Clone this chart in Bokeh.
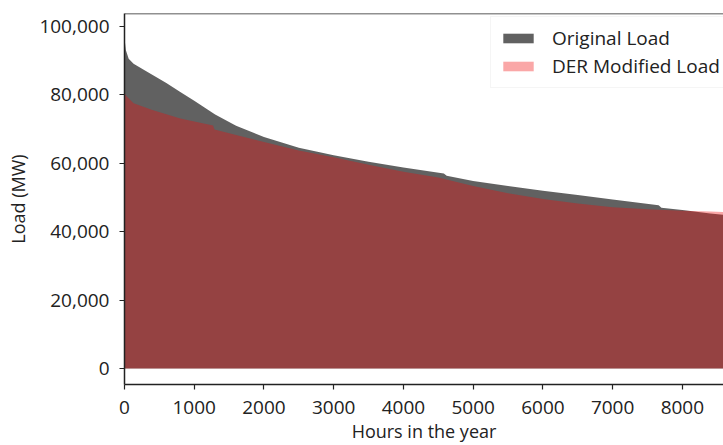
from bokeh.plotting import figure
from bokeh.models import Range1d, FixedTicker, NumeralTickFormatter, Span, Legend, LegendItem
from bokeh.embed import file_html
from bokeh.resources import INLINE

# Load duration curves
orig_hours = [0, 20, 60, 130, 300, 600, 800, 1000, 1300, 1600, 2000, 2500, 3000, 3500,
              4000, 4580, 4620, 5000, 5500, 6000, 6500, 7000, 7660, 7700, 8000, 8400, 8760]
orig_load = [96500, 93000, 90500, 89000, 87000, 83400, 80800, 78200, 74200, 70900, 67600,
             64500, 62300, 60400, 58700, 57000, 56300, 54800, 53300, 51900, 50700, 49400,
             47700, 47000, 46300, 45300, 44500]

der_hours = [0, 30, 130, 400, 800, 1270, 1290, 1600, 2000, 2500, 3000, 3500, 4000, 4500,
             5000, 5500, 6000, 6500, 7000, 7500, 8000, 8400, 8760]
der_load = [80500, 79500, 77500, 75500, 73000, 71000, 69800, 68200, 66200, 63700, 61700,
            59500, 57500, 55800, 53300, 51200, 49500, 48200, 47100, 46500, 46100, 45900, 45600]

x_ticks = [0, 1000, 2000, 3000, 4000, 5000, 6000, 7000, 8000]
y_ticks = [0, 20000, 40000, 60000, 80000, 100000]

FONT = "Open Sans"
TXT = "#222222"

p = figure(width=723, height=445, output_backend="svg", toolbar_location=None,
           x_range=Range1d(0, 8590), y_range=Range1d(-4660, 103700),
           min_border_left=124, min_border_right=0, min_border_top=13, min_border_bottom=60)
p.outline_line_color = None
p.grid.visible = False
p.background_fill_color = "white"
p.border_fill_color = "white"

r_orig = p.varea(x=orig_hours, y1=0, y2=orig_load, fill_color="black", fill_alpha=0.62)
r_der = p.varea(x=der_hours, y1=0, y2=der_load, fill_color=(240, 12, 12), fill_alpha=0.36)

top_line = Span(location=103700, dimension="width", line_color="#222222", line_width=1.5)
p.add_layout(top_line)

for ax in (p.xaxis[0], p.yaxis[0]):
    ax.axis_line_color = "#222222"
    ax.axis_line_width = 1.5
    ax.major_tick_line_color = "#222222"
    ax.major_tick_line_width = 1.2
    ax.major_tick_in = 0
    ax.major_tick_out = 5
    ax.minor_tick_line_color = None
    ax.major_label_text_font = FONT
    ax.major_label_text_font_size = "19px"
    ax.major_label_text_color = TXT
    ax.axis_label_text_font = FONT
    ax.axis_label_text_font_size = "18px"
    ax.axis_label_text_font_style = "normal"
    ax.axis_label_text_color = TXT

p.xaxis[0].ticker = FixedTicker(ticks=x_ticks)
p.yaxis[0].ticker = FixedTicker(ticks=y_ticks)
p.yaxis[0].formatter = NumeralTickFormatter(format="0,0")
p.xaxis[0].axis_label = "Hours in the year"
p.yaxis[0].axis_label = "Load (MW)"
p.xaxis[0].major_label_standoff = 11
p.xaxis[0].axis_label_standoff = 2
p.yaxis[0].major_label_standoff = 10
p.yaxis[0].axis_label_standoff = 6

legend = Legend(items=[LegendItem(label="Original Load", renderers=[r_orig]),
                       LegendItem(label="DER Modified Load", renderers=[r_der])],
                location=(366, 296))
legend.label_text_font = FONT
legend.label_text_font_size = "19px"
legend.label_text_color = TXT
legend.glyph_width = 38
legend.glyph_height = 12
legend.label_standoff = 15
legend.spacing = 2
legend.padding = 8
legend.background_fill_color = "white"
legend.background_fill_alpha = 0.8
legend.border_line_color = "#eeeeee"
legend.border_line_alpha = 0.6
p.add_layout(legend)

open("out.html", "w").write(file_html(p, INLINE))
